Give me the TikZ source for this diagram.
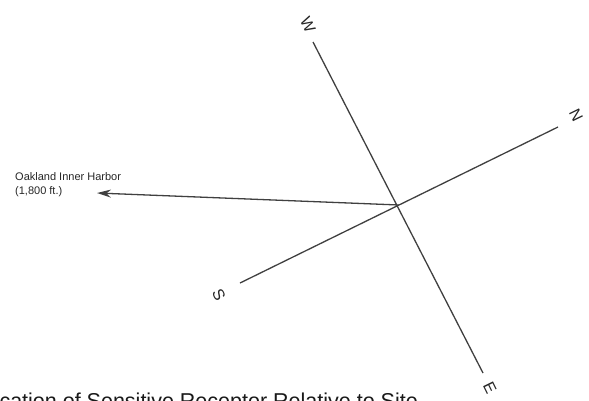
\documentclass[tikz,border=0pt]{standalone}
\usepackage{fontspec}
\setmainfont{Liberation Sans}
\usetikzlibrary{arrows.meta}
\begin{document}
\begin{tikzpicture}[x=1pt,y=-1pt,
  axis/.style={draw=black!75,line width=1.3pt},
  dirlabel/.style={font=\fontsize{16}{16}\selectfont,text=black!85,rotate=-64,inner sep=0pt},
  small/.style={font=\fontsize{11}{13}\selectfont,text=black!85,inner sep=0pt,align=left}]
\useasboundingbox (0,0) rectangle (589,400);
\clip (0,0) rectangle (589,400);
\coordinate (c) at (399,205);
\coordinate (wend) at (313,42);
\coordinate (eend) at (483,373);
\coordinate (send) at (240,283);
\coordinate (nend) at (558,127);
\coordinate (tip) at (97,193);
\draw[axis] (wend) -- (eend);
\draw[axis] (send) -- (nend);
\draw[axis,-{Stealth[length=14pt,width=8pt]}] (c) -- (tip);
\node[dirlabel] (W) at (308,25) {W};
\node[dirlabel] (N) at (576,115) {N};
\node[dirlabel] (S) at (219,295) {S};
\node[dirlabel] (E) at (490,388) {E};
\node[small,anchor=base west] (harbor) at (15,180) {Oakland Inner Harbor};
\node[small,anchor=base west] (dist) at (15,194) {(1,800 ft.)};
\node[font=\fontsize{21.5}{22}\selectfont,text=black!90,anchor=base east,inner sep=0pt] (cap) at (418,408.5) {Location of Sensitive Receptor Relative to Site};
\end{tikzpicture}
\end{document}
